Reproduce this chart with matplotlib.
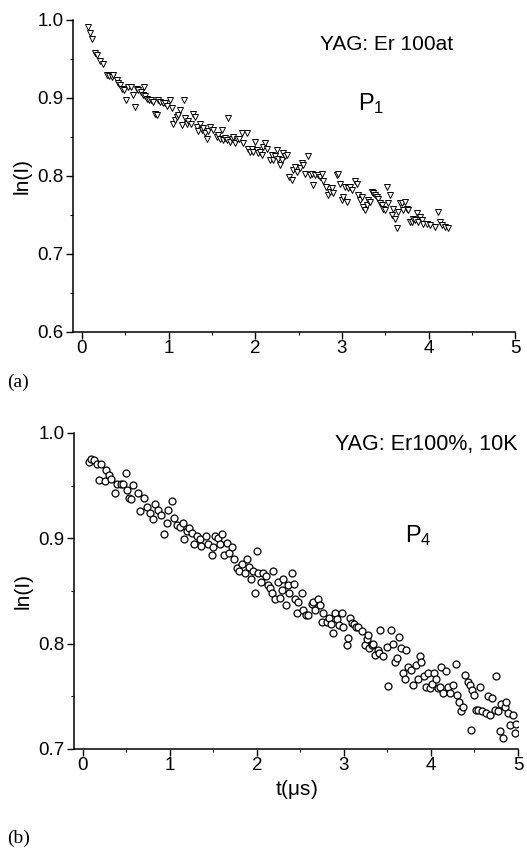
"""Decay curves ln(I) vs t for YAG:Er 100% (panels a and b)."""

import matplotlib as mpl
import matplotlib.pyplot as plt
from matplotlib.ticker import MultipleLocator

# Panel (a): P1, YAG:Er 100at
t_a = [
    0.073, 0.092, 0.112, 0.150, 0.177, 0.208, 0.239, 0.285, 0.312, 0.343,
    0.362, 0.400, 0.420, 0.439, 0.458, 0.485, 0.508, 0.535, 0.562, 0.593,
    0.612, 0.631, 0.650, 0.677, 0.701, 0.716, 0.727, 0.747, 0.774, 0.797,
    0.824, 0.843, 0.862, 0.881, 0.901, 0.931, 0.958, 0.978, 1.016, 1.035,
    1.055, 1.074, 1.093, 1.112, 1.132, 1.151, 1.178, 1.189, 1.209, 1.228,
    1.255, 1.286, 1.305, 1.324, 1.343, 1.363, 1.382, 1.401, 1.420, 1.440,
    1.459, 1.478, 1.517, 1.555, 1.574, 1.594, 1.613, 1.632, 1.651, 1.671,
    1.690, 1.709, 1.728, 1.747, 1.767, 1.794, 1.817, 1.844, 1.863, 1.901,
    1.921, 1.940, 1.959, 1.978, 1.998, 2.017, 2.036, 2.055, 2.075, 2.094,
    2.113, 2.132, 2.171, 2.190, 2.209, 2.229, 2.248, 2.267, 2.286, 2.306,
    2.325, 2.344, 2.363, 2.394, 2.421, 2.440, 2.460, 2.479, 2.517, 2.537,
    2.556, 2.575, 2.614, 2.633, 2.652, 2.671, 2.691, 2.729, 2.748, 2.768,
    2.787, 2.818, 2.844, 2.864, 2.883, 2.902, 2.941, 2.960, 2.979, 2.998,
    3.018, 3.037, 3.056, 3.075, 3.095, 3.114, 3.152, 3.172, 3.191, 3.210,
    3.229, 3.249, 3.268, 3.287, 3.306, 3.326, 3.345, 3.364, 3.383, 3.403,
    3.422, 3.441, 3.460, 3.480, 3.499, 3.518, 3.537, 3.557, 3.576, 3.595,
    3.614, 3.634, 3.653, 3.672, 3.691, 3.711, 3.730, 3.749, 3.768, 3.788,
    3.807, 3.826, 3.845, 3.865, 3.884, 3.903, 3.922, 3.941, 3.980, 4.018,
    4.076, 4.115, 4.134, 4.153, 4.192, 4.230,
]
ln_a = [
    0.991, 0.983, 0.975, 0.957, 0.955, 0.947, 0.944, 0.929, 0.928, 0.927,
    0.929, 0.923, 0.919, 0.917, 0.912, 0.910, 0.898, 0.914, 0.914, 0.904,
    0.889, 0.912, 0.910, 0.908, 0.904, 0.914, 0.902, 0.899, 0.897, 0.898,
    0.895, 0.880, 0.878, 0.897, 0.895, 0.893, 0.894, 0.890, 0.897, 0.887,
    0.867, 0.872, 0.876, 0.878, 0.884, 0.865, 0.897, 0.874, 0.867, 0.870,
    0.867, 0.880, 0.876, 0.863, 0.857, 0.867, 0.859, 0.861, 0.855, 0.848,
    0.857, 0.863, 0.859, 0.850, 0.852, 0.848, 0.859, 0.846, 0.849, 0.846,
    0.874, 0.844, 0.847, 0.850, 0.842, 0.847, 0.848, 0.855, 0.842, 0.855,
    0.835, 0.831, 0.835, 0.831, 0.844, 0.833, 0.829, 0.831, 0.827, 0.837,
    0.842, 0.835, 0.820, 0.827, 0.820, 0.825, 0.833, 0.822, 0.814, 0.820,
    0.829, 0.825, 0.827, 0.799, 0.795, 0.807, 0.812, 0.805, 0.810, 0.816,
    0.814, 0.803, 0.825, 0.801, 0.803, 0.788, 0.801, 0.801, 0.799, 0.803,
    0.793, 0.786, 0.775, 0.780, 0.784, 0.778, 0.801, 0.803, 0.790, 0.769,
    0.773, 0.786, 0.767, 0.784, 0.786, 0.782, 0.793, 0.790, 0.775, 0.769,
    0.773, 0.760, 0.756, 0.763, 0.769, 0.767, 0.780, 0.778, 0.775, 0.773,
    0.771, 0.765, 0.763, 0.758, 0.756, 0.786, 0.765, 0.775, 0.750, 0.758,
    0.745, 0.733, 0.754, 0.765, 0.765, 0.756, 0.767, 0.758, 0.756, 0.741,
    0.741, 0.745, 0.743, 0.752, 0.741, 0.748, 0.743, 0.739, 0.738, 0.737,
    0.735, 0.754, 0.741, 0.737, 0.735, 0.733,
]

# Panel (b): P4, YAG:Er100%, 10K
t_b = [
    0.065, 0.092, 0.122, 0.161, 0.210, 0.268, 0.187, 0.249, 0.295, 0.325,
    0.371, 0.390, 0.440, 0.459, 0.493, 0.505, 0.524, 0.555, 0.574, 0.627,
    0.650, 0.696, 0.735, 0.773, 0.830, 0.803, 0.868, 0.895, 0.937, 0.964,
    0.983, 1.029, 1.041, 1.079, 1.117, 1.148, 1.163, 1.194, 1.220, 1.251,
    1.278, 1.308, 1.347, 1.358, 1.412, 1.442, 1.481, 1.500, 1.519, 1.557,
    1.576, 1.603, 1.622, 1.653, 1.683, 1.718, 1.741, 1.767, 1.794, 1.825,
    1.863, 1.882, 1.913, 1.928, 1.959, 1.982, 1.997, 2.016, 2.047, 2.073,
    2.100, 2.127, 2.150, 2.169, 2.188, 2.211, 2.238, 2.265, 2.284, 2.303,
    2.330, 2.353, 2.372, 2.406, 2.425, 2.437, 2.456, 2.475, 2.513, 2.533,
    2.563, 2.590, 2.628, 2.647, 2.666, 2.697, 2.724, 2.751, 2.762, 2.800,
    2.823, 2.850, 2.869, 2.896, 2.923, 2.946, 2.972, 2.992, 3.030, 3.049,
    3.068, 3.087, 3.114, 3.133, 3.164, 3.202, 3.240, 3.259, 3.279, 3.290,
    3.317, 3.336, 3.355, 3.386, 3.405, 3.412, 3.451, 3.489, 3.508, 3.535,
    3.558, 3.585, 3.604, 3.634, 3.653, 3.680, 3.699, 3.718, 3.738, 3.768,
    3.795, 3.826, 3.852, 3.871, 3.891, 3.921, 3.948, 3.967, 3.986, 4.013,
    4.032, 4.063, 4.082, 4.101, 4.120, 4.139, 4.170, 4.197, 4.223, 4.254,
    4.285, 4.304, 4.323, 4.350, 4.369, 4.388, 4.426, 4.445, 4.457, 4.476,
    4.491, 4.514, 4.541, 4.568, 4.591, 4.629, 4.656, 4.682, 4.705, 4.732,
    4.751, 4.770, 4.790, 4.809, 4.828, 4.847, 4.866, 4.885, 4.912, 4.943,
    4.962, 4.981,
]
ln_b = [
    0.972, 0.975, 0.974, 0.971, 0.971, 0.965, 0.955, 0.954, 0.960, 0.956,
    0.943, 0.952, 0.952, 0.952, 0.962, 0.946, 0.938, 0.937, 0.951, 0.943,
    0.926, 0.938, 0.930, 0.924, 0.933, 0.918, 0.927, 0.922, 0.904, 0.915,
    0.927, 0.935, 0.919, 0.913, 0.911, 0.915, 0.899, 0.907, 0.910, 0.905,
    0.895, 0.902, 0.899, 0.893, 0.902, 0.895, 0.884, 0.892, 0.902, 0.900,
    0.895, 0.904, 0.884, 0.896, 0.886, 0.892, 0.880, 0.872, 0.869, 0.876,
    0.867, 0.880, 0.873, 0.861, 0.869, 0.848, 0.888, 0.867, 0.859, 0.867,
    0.864, 0.856, 0.853, 0.848, 0.869, 0.842, 0.859, 0.843, 0.851, 0.861,
    0.837, 0.856, 0.848, 0.867, 0.857, 0.842, 0.829, 0.840, 0.848, 0.832,
    0.827, 0.827, 0.838, 0.840, 0.832, 0.842, 0.837, 0.821, 0.829, 0.821,
    0.824, 0.819, 0.810, 0.829, 0.823, 0.818, 0.829, 0.816, 0.799, 0.805,
    0.824, 0.820, 0.819, 0.816, 0.816, 0.812, 0.799, 0.804, 0.808, 0.796,
    0.799, 0.800, 0.789, 0.794, 0.791, 0.813, 0.788, 0.797, 0.760, 0.813,
    0.800, 0.783, 0.786, 0.806, 0.796, 0.772, 0.766, 0.794, 0.778, 0.775,
    0.761, 0.780, 0.766, 0.788, 0.783, 0.769, 0.759, 0.772, 0.758, 0.762,
    0.772, 0.766, 0.758, 0.759, 0.778, 0.753, 0.774, 0.759, 0.753, 0.761,
    0.781, 0.751, 0.745, 0.736, 0.740, 0.770, 0.764, 0.761, 0.718, 0.756,
    0.751, 0.737, 0.737, 0.759, 0.736, 0.734, 0.750, 0.732, 0.748, 0.737,
    0.769, 0.736, 0.717, 0.743, 0.710, 0.740, 0.745, 0.734, 0.723, 0.732,
    0.715, 0.724,
]

mpl.rcParams.update(
    {
        "font.family": ["Liberation Sans", "DejaVu Sans"],
        "mathtext.fontset": "custom",
        "mathtext.rm": "Liberation Sans",
        "mathtext.it": "Liberation Sans",
        "mathtext.default": "regular",
        "axes.linewidth": 1.1,
        "xtick.direction": "out",
        "ytick.direction": "out",
        "xtick.major.size": 5,
        "ytick.major.size": 5,
        "xtick.minor.size": 2.5,
        "ytick.minor.size": 2.5,
        "xtick.major.width": 1.0,
        "ytick.major.width": 1.0,
        "xtick.minor.width": 0.8,
        "ytick.minor.width": 0.8,
    }
)

fig = plt.figure(figsize=(5.27, 8.49), dpi=100)
fig.patch.set_facecolor("white")
ax_a = fig.add_axes([0.1385, 0.609, 0.839, 0.3675])
ax_b = fig.add_axes([0.1404, 0.1178, 0.8425, 0.3722])

ax_a.plot(t_a, ln_a, linestyle="none", marker="v", markersize=4.0,
          markerfacecolor="white", markeredgecolor="black", markeredgewidth=0.7)
ax_b.plot(t_b, ln_b, linestyle="none", marker="o", markersize=5.0,
          markerfacecolor="white", markeredgecolor="black", markeredgewidth=0.9)

ax_a.set_xlim(-0.104, 5.0)
ax_a.set_ylim(0.6, 1.0)
ax_a.yaxis.set_major_locator(MultipleLocator(0.1))
ax_a.yaxis.set_minor_locator(MultipleLocator(0.05))

ax_b.set_xlim(-0.103, 5.0)
ax_b.set_ylim(0.7, 1.0)
ax_b.yaxis.set_major_locator(MultipleLocator(0.1))
ax_b.yaxis.set_minor_locator(MultipleLocator(0.05))

for ax in (ax_a, ax_b):
    ax.xaxis.set_major_locator(MultipleLocator(1))
    ax.xaxis.set_minor_locator(MultipleLocator(0.5))
    ax.yaxis.set_major_formatter(mpl.ticker.FormatStrFormatter("%.1f"))
    ax.spines["top"].set_visible(False)
    ax.spines["right"].set_visible(False)
    ax.tick_params(axis="both", which="major", labelsize=13.5)
    ax.tick_params(axis="x", pad=1)
    ax.tick_params(axis="y", pad=2)
    ax.set_ylabel("ln(I)", fontsize=15, labelpad=4)
    for lab in ax.get_xticklabels():
        lab.set_clip_on(False)

ax_a.text(3.52, 0.968, "YAG: Er 100at", ha="center", va="center", fontsize=15)
ax_a.text(3.19, 0.893, r"P$_1$", ha="left", va="center", fontsize=17)

ax_b.text(4.99, 0.989, "YAG: Er100%, 10K", ha="right", va="center", fontsize=15.5)
ax_b.text(3.70, 0.903, r"P$_4$", ha="left", va="center", fontsize=17)
ax_b.set_xlabel(r"t($\mu$s)", fontsize=15, labelpad=3)

fig.text(7 / 527, 1 - 382 / 849, "(a)", family="Liberation Serif", fontsize=14,
         ha="left", va="center")
fig.text(7 / 527, 1 - 838 / 849, "(b)", family="Liberation Serif", fontsize=14,
         ha="left", va="center")

fig.savefig("out.png", dpi=100, facecolor="white")
